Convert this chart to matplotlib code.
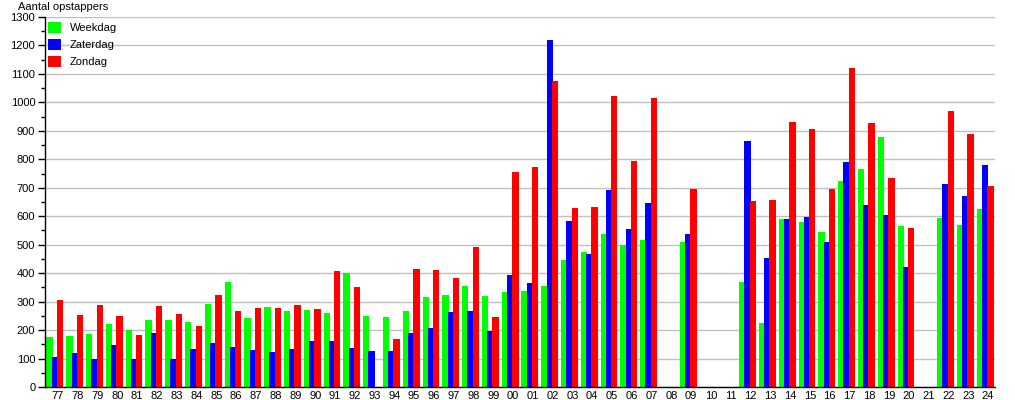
import matplotlib
matplotlib.use("Agg")
from matplotlib import pyplot as plt
import numpy as np

plt.rcParams['font.family'] = ['Liberation Sans', 'DejaVu Sans']

jaren = ['77', '78', '79', '80', '81', '82', '83', '84', '85', '86', '87', '88',
         '89', '90', '91', '92', '93', '94', '95', '96', '97', '98', '99', '00',
         '01', '02', '03', '04', '05', '06', '07', '08', '09', '10', '11', '12',
         '13', '14', '15', '16', '17', '18', '19', '20', '21', '22', '23', '24']

# 0 = geen telling dat jaar
weekdag = [175, 180, 187, 222, 202, 236, 236, 229, 292, 368, 243, 281,
           267, 271, 260, 400, 250, 246, 268, 315, 325, 356, 318, 333,
           337, 355, 446, 475, 537, 500, 515, 0, 508, 0, 0, 368,
           225, 590, 578, 543, 723, 766, 878, 565, 0, 595, 570, 625]
zaterdag = [105, 120, 98, 148, 98, 190, 98, 133, 155, 141, 130, 123,
            133, 162, 162, 136, 126, 128, 191, 208, 265, 268, 196, 392,
            365, 1220, 585, 467, 692, 554, 645, 0, 536, 0, 0, 865,
            452, 590, 597, 508, 790, 638, 603, 420, 0, 715, 672, 780]
zondag = [305, 253, 288, 250, 183, 285, 256, 215, 323, 267, 277, 277,
          288, 274, 407, 350, 0, 167, 413, 410, 382, 492, 246, 755,
          772, 1075, 628, 632, 1022, 795, 1015, 0, 695, 0, 0, 652,
          657, 930, 906, 695, 1120, 926, 733, 560, 0, 968, 888, 705]

W, H = 1015, 400
fig = plt.figure(figsize=(W / 100, H / 100), dpi=100)
ax = fig.add_axes([45 / W, 13 / H, 950 / W, 370 / H])

x = np.arange(len(jaren))
bw = 0.32
ax.bar(x - 0.265, weekdag, bw, color='#00ff00', label='Weekdag', zorder=3)
ax.bar(x, zaterdag, bw, color='#0000ff', label='Zaterdag', zorder=3)
ax.bar(x + 0.265, zondag, bw, color='#ff0000', label='Zondag', zorder=3)

ax.set_xlim(-0.5, len(jaren) - 0.5)
ax.set_ylim(0, 1300)
ax.set_yticks(np.arange(0, 1301, 100))
ax.set_yticks(np.arange(50, 1300, 100), minor=True)
ax.yaxis.grid(True, color='#c0c0c0', linewidth=1, zorder=0)
ax.set_xticks(x + 0.15)
ax.set_xticklabels(jaren)
ax.tick_params(axis='x', length=0, pad=3, labelsize=8)
ax.tick_params(axis='y', which='major', length=5, width=1, labelsize=8, pad=2)
ax.tick_params(axis='y', which='minor', length=3, width=1)

for s in ['top', 'right']:
    ax.spines[s].set_visible(False)
for s in ['left', 'bottom']:
    ax.spines[s].set_linewidth(1)
    ax.spines[s].set_zorder(4)

ax.legend(loc='upper left', bbox_to_anchor=(-0.002, 1.0), frameon=False, fontsize=8,
          handlelength=1.2, handleheight=1.2, handletextpad=0.75, labelspacing=0.5,
          borderaxespad=0.35, borderpad=0.1)

fig.text(18 / W, 1 - 7 / H, 'Aantal opstappers', fontsize=8, va='center', ha='left')

fig.savefig('out.png', dpi=100)
